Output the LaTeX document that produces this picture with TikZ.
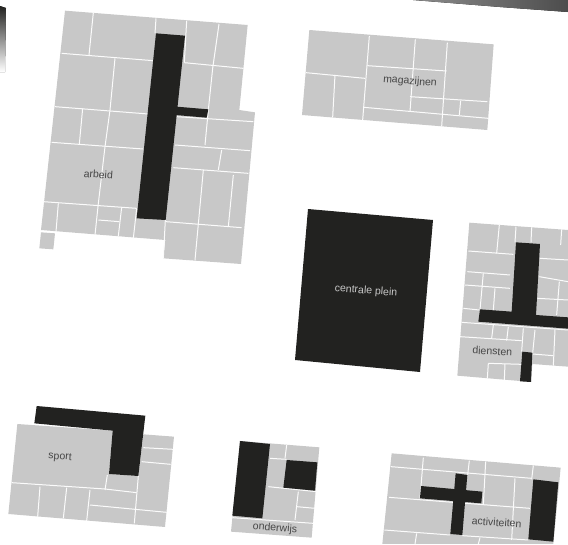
\documentclass[tikz,border=0pt]{standalone}
\usepackage{fontspec}
\setmainfont{Liberation Sans}
\definecolor{zone}{HTML}{C8C8C8}
\definecolor{core}{HTML}{222220}
\tikzset{
  zonefill/.style={fill=zone,draw=none},
  corefill/.style={fill=core,draw=none},
  wall/.style={draw=white!92!zone,line width=1pt},
  lbl/.style={font=\fontsize{10.5}{12}\selectfont,text=#1,inner sep=0pt},
  lbl/.default={black!72},
  zoomed/.style={x=1pt,y=-1pt,scale=0.33333}
}
\begin{document}
\begin{tikzpicture}[x=1pt,y=-1pt]
\useasboundingbox (0,0) rectangle (568,544);
% torn dark scraps at the page edges
\fill[top color=core,bottom color=white] (0,6) -- (6,8) -- (5,72) -- (0,72) -- cycle;
\fill[left color=black!45,right color=black!70] (413,0) -- (568,0) -- (568,12) -- (500,7) -- cycle;

% arbeid
\begin{scope}[zoomed,shift={(60,0)}]
\fill[zonefill] (135,32) -- (683,75) -- (658,330) -- (705,337) -- (663,792) -- (430,775) -- (436,720) -- (63,690) -- cycle;
\fill[zonefill] (63,697) -- (105,700) -- (100,748) -- (58,745) -- cycle;
\draw[wall] (220,38) -- (207,165);
\draw[wall] (408,55) -- (405,100);
\draw[wall] (500,62) -- (493,188);
\draw[wall] (597,72) -- (578,205) -- (565,330) -- (555,435);
\draw[wall] (125,160) -- (400,182);
\draw[wall] (493,188) -- (670,205);
\draw[wall] (285,175) -- (270,330) -- (255,440) -- (235,610) -- (225,705);
\draw[wall] (105,320) -- (385,342);
\draw[wall] (188,325) -- (178,432);
\draw[wall] (95,427) -- (370,447);
\draw[wall] (470,350) -- (700,365);
\draw[wall] (465,435) -- (690,452);
\draw[wall] (605,450) -- (595,510);
\draw[wall] (460,503) -- (685,520);
\draw[wall] (550,510) -- (525,780);
\draw[wall] (640,525) -- (625,680);
\draw[wall] (438,665) -- (665,683);
\draw[wall] (70,605) -- (350,625);
\draw[wall] (115,610) -- (108,695);
\draw[wall] (305,622) -- (295,708);
\draw[wall] (235,660) -- (298,665);
\draw[wall] (350,625) -- (340,715);
\draw[wall] (436,660) -- (430,775);
\fill[corefill] (408,100) -- (495,107) -- (437,660) -- (350,655) -- cycle;
\fill[corefill] (470,320) -- (565,328) -- (560,353) -- (466,345) -- cycle;
\node[lbl,rotate=-4] (arbeid) at (235,523) {arbeid};
\end{scope}

% magazijnen
\begin{scope}[zoomed,shift={(870,0)}]
\fill[zonefill] (58,90) -- (611,133) -- (592,390) -- (36,345) -- cycle;
\draw[wall] (238,108) -- (218,360);
\draw[wall] (376,118) -- (360,335);
\draw[wall] (472,128) -- (455,380);
\draw[wall] (48,218) -- (225,235);
\draw[wall] (232,197) -- (470,213);
\draw[wall] (135,225) -- (128,352);
\draw[wall] (222,322) -- (595,355);
\draw[wall] (360,290) -- (592,305);
\draw[wall] (512,302) -- (508,345);
\node[lbl,rotate=-4.4] (magazijnen) at (360,245) {magazijnen};
\end{scope}

% centrale plein
\fill[corefill] (308,209) -- (433,220) -- (420,372) -- (295,360) -- cycle;
\node[lbl=zone,rotate=-4.4] (plein) at (366,291) {centrale plein};

% diensten
\begin{scope}[zoomed,shift={(1350,630)}]
\fill[zonefill] (58,38) -- (354,60) -- (354,470) -- (247,462) -- (243,515) -- (210,513) -- (22,497) -- cycle;
\draw[wall] (148,45) -- (140,130);
\draw[wall] (198,50) -- (195,97);
\draw[wall] (245,52) -- (243,97);
\draw[wall] (335,58) -- (332,105);
\draw[wall] (55,123) -- (190,133);
\draw[wall] (52,185) -- (180,195);
\draw[wall] (270,145) -- (354,150);
\draw[wall] (268,200) -- (354,215);
\draw[wall] (262,265) -- (354,270);
\draw[wall] (100,190) -- (90,300);
\draw[wall] (45,225) -- (180,235);
\draw[wall] (135,235) -- (130,300);
\draw[wall] (40,295) -- (88,300);
\draw[wall] (328,215) -- (320,315);
\draw[wall] (35,337) -- (354,360);
\draw[wall] (30,380) -- (215,392);
\draw[wall] (175,350) -- (170,392);
\draw[wall] (130,345) -- (125,385);
\draw[wall] (220,355) -- (215,425);
\draw[wall] (255,360) -- (248,430);
\draw[wall] (315,360) -- (310,467);
\draw[wall] (115,460) -- (215,463);
\draw[wall] (115,460) -- (112,505);
\draw[wall] (165,462) -- (163,510);
\draw[wall] (248,432) -- (310,437);
\fill[corefill] (198,97) -- (270,102) -- (258,315) -- (354,322) -- (354,356) -- (85,335) -- (90,298) -- (185,305) -- cycle;
\fill[corefill] (217,425) -- (247,428) -- (243,516) -- (210,514) -- cycle;
\node[lbl,rotate=-3] (diensten) at (127,423) {diensten};
\end{scope}

% sport
\begin{scope}[zoomed,shift={(0,1185)}]
\fill[zonefill] (52,87) -- (338,107) -- (327,237) -- (415,243) -- (430,118) -- (522,125) -- (495,396) -- (25,357) -- cycle;
\draw[wall] (35,263) -- (315,282) -- (410,293);
\draw[wall] (120,275) -- (113,365);
\draw[wall] (200,278) -- (190,370);
\draw[wall] (270,285) -- (260,378);
\draw[wall] (322,240) -- (315,285);
\draw[wall] (270,330) -- (500,352);
\draw[wall] (415,243) -- (403,385);
\draw[wall] (430,158) -- (520,163);
\draw[wall] (425,200) -- (512,208);
\fill[corefill] (110,33) -- (436,62) -- (415,243) -- (327,237) -- (338,107) -- (103,85) -- cycle;
\node[lbl,rotate=-4] (sport) at (180,187) {sport};

% onderwijs
\fill[zonefill] (720,138) -- (958,157) -- (935,428) -- (693,410) -- cycle;
\draw[wall] (860,150) -- (855,190);
\draw[wall] (810,190) -- (860,193);
\draw[wall] (805,275) -- (950,290);
\draw[wall] (895,290) -- (885,375);
\draw[wall] (890,335) -- (945,340);
\draw[wall] (697,368) -- (940,385);
\fill[corefill] (720,138) -- (810,147) -- (787,370) -- (697,362) -- cycle;
\fill[corefill] (860,195) -- (952,202) -- (945,287) -- (850,278) -- cycle;
\node[lbl,rotate=-4] (onderwijs) at (825,400) {onderwijs};
\end{scope}

% activiteiten
\begin{scope}[zoomed,shift={(1125,1335)}]
\fill[zonefill] (50,25) -- (557,68) -- (535,297) -- (22,297) -- cycle;
\draw[wall] (48,65) -- (470,100);
\draw[wall] (145,38) -- (135,160);
\draw[wall] (283,47) -- (278,90);
\draw[wall] (332,50) -- (325,180);
\draw[wall] (475,62) -- (470,103);
\draw[wall] (420,100) -- (410,285);
\draw[wall] (42,157) -- (465,190);
\draw[wall] (28,255) -- (225,270);
\draw[wall] (262,272) -- (460,285);
\draw[wall] (125,265) -- (120,297);
\draw[wall] (315,278) -- (310,297);
\fill[corefill] (475,103) -- (550,112) -- (535,290) -- (460,283) -- cycle;
\fill[corefill] (242,85) -- (277,90) -- (262,270) -- (226,267) -- cycle;
\fill[corefill] (138,123) -- (322,140) -- (319,175) -- (135,160) -- cycle;
\node[lbl,rotate=-4] (activiteiten) at (365,232) {activiteiten};
\end{scope}
\end{tikzpicture}
\end{document}
